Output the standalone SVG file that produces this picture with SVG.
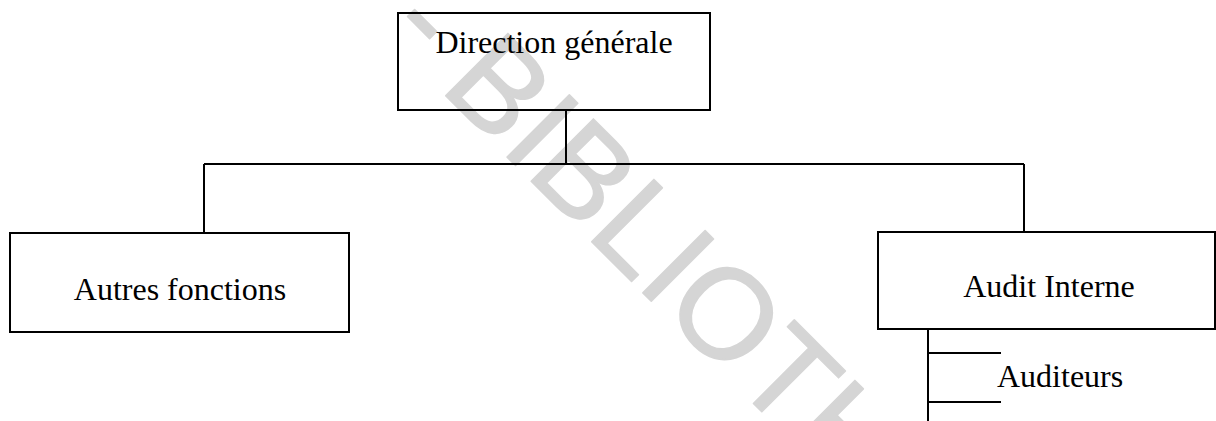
<svg xmlns="http://www.w3.org/2000/svg" width="1216" height="421" viewBox="0 0 1216 421">
  <style>
    .box { fill: none; stroke: #000; stroke-width: 2; }
    .wire { fill: none; stroke: #000; stroke-width: 2; }
    .label { font-family: "Liberation Serif", "Times New Roman", serif; font-size: 32px; fill: #000; }
    .stamp { font-family: "Liberation Sans", Arial, sans-serif; font-size: 128px; fill: #d5d5d5; stroke: #d5d5d5; stroke-width: 1.5; stroke-linejoin: round; }
  </style>
  <rect width="1216" height="421" fill="#fff"/>

  <!-- diagonal library stamp behind the chart -->
  <g id="stamp">
    <text class="stamp" transform="translate(383,33) rotate(45)">- BIBLIOTH</text>
  </g>

  <!-- connectors -->
  <g id="connectors">
    <path class="wire" d="M566 110 V164"/>
    <path class="wire" d="M204 164 H1024"/>
    <path class="wire" d="M204 164 V233"/>
    <path class="wire" d="M1024 164 V232"/>
    <path class="wire" d="M928 329 V421"/>
    <path class="wire" d="M928 353 H1001"/>
    <path class="wire" d="M928 402 H1001"/>
  </g>

  <g id="direction-generale">
    <rect class="box" x="398" y="13" width="312" height="97"/>
    <text class="label" x="554" y="53" text-anchor="middle">Direction générale</text>
  </g>

  <g id="autres-fonctions">
    <rect class="box" x="10" y="233" width="339" height="99"/>
    <text class="label" x="180" y="300" text-anchor="middle">Autres fonctions</text>
  </g>

  <g id="audit-interne">
    <rect class="box" x="878" y="232" width="337" height="97"/>
    <text class="label" x="1049" y="297" text-anchor="middle">Audit Interne</text>
  </g>

  <g id="auditeurs">
    <text class="label" x="997" y="387">Auditeurs</text>
  </g>
</svg>
